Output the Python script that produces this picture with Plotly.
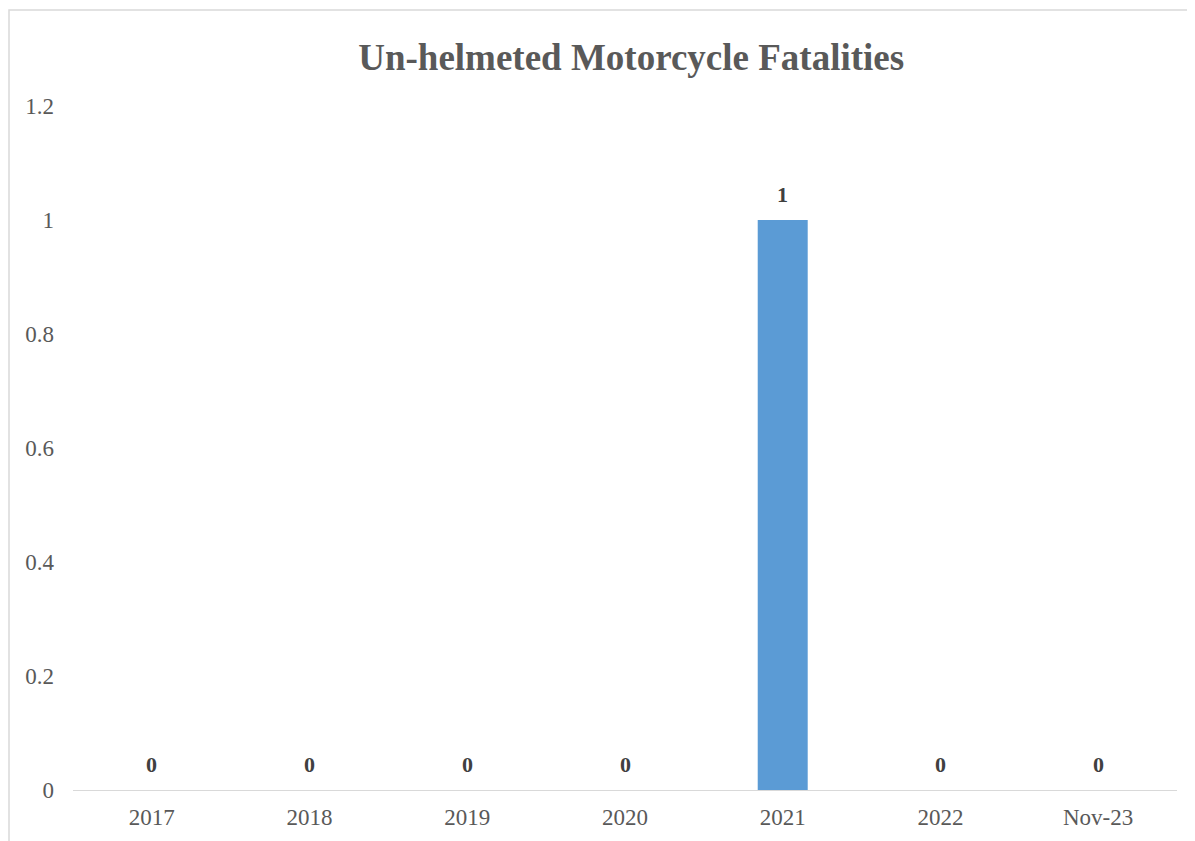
import plotly.graph_objects as go

categories = ["2017", "2018", "2019", "2020", "2021", "2022", "Nov-23"]
fatalities = [0, 0, 0, 0, 1, 0, 0]
y_ticks = [0, 0.2, 0.4, 0.6, 0.8, 1, 1.2]
y_tick_labels = ["0", "0.2", "0.4", "0.6", "0.8", "1", "1.2"]

font_family = "Liberation Serif, Times New Roman, serif"
gray = "#595959"

fig = go.Figure()
fig.add_trace(go.Bar(
    x=categories,
    y=fatalities,
    marker=dict(color="#5B9BD5", line=dict(width=0)),
    hoverinfo="x+y",
))

# value labels (positioned by category index on the category axis)
annotations = [
    dict(
        x=i, y=v, xref="x", yref="y",
        text="<b>%g</b>" % v,
        showarrow=False,
        yanchor="bottom",
        yshift=11,
        font=dict(family=font_family, size=22, color="#404040"),
    )
    for i, v in enumerate(fatalities)
]

fig.update_layout(
    width=1187,
    height=833,
    margin=dict(l=65, r=18, t=98, b=51),
    paper_bgcolor="white",
    plot_bgcolor="white",
    bargap=0.683,
    showlegend=False,
    title=dict(
        text="<b>Un-helmeted Motorcycle Fatalities</b>",
        x=0.525,
        xanchor="center",
        y=0.941,
        yanchor="middle",
        font=dict(family=font_family, size=37, color=gray),
    ),
    xaxis=dict(
        type="category",
        categoryorder="array",
        categoryarray=categories,
        range=[-0.5, len(categories) - 0.5],
        showgrid=False,
        showline=True,
        linecolor="#D9D9D9",
        linewidth=1.2,
        ticks="",
        ticklabelstandoff=6,
        tickfont=dict(family=font_family, size=23, color=gray),
    ),
    yaxis=dict(
        range=[0, 1.2],
        tickvals=y_ticks,
        ticktext=y_tick_labels,
        showgrid=False,
        zeroline=False,
        showline=False,
        ticks="",
        ticklabelstandoff=18,
        tickfont=dict(family=font_family, size=23, color=gray),
    ),
    annotations=annotations,
    shapes=[dict(
        type="rect",
        xref="paper", yref="paper",
        x0=(1 - 65) / 1104, x1=1.1,
        y0=-0.2, y1=(782 - 2) / 684,
        line=dict(color="#D9D9D9", width=1.5),
        fillcolor="rgba(0,0,0,0)",
        layer="below",
    )],
)

fig.write_html("out.html")
